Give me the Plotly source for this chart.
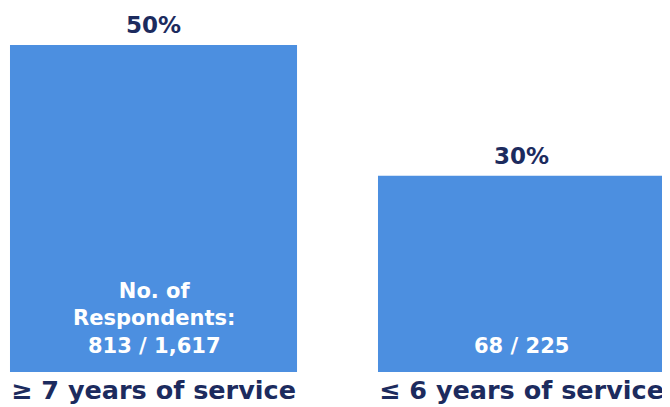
import plotly.graph_objects as go

categories = ["≥ 7 years of service", "≤ 6 years of service"]
percent_values = [50, 30]
percent_labels = ["50%", "30%"]
respondent_labels = ["No. of<br>Respondents:<br>813 / 1,617", "68 / 225"]

x_pos = list(range(len(categories)))
bar_color = "#4C8FE0"
navy = "#1C2B5E"
font_family = "DejaVu Sans, Verdana, sans-serif"

fig = go.Figure()
fig.add_trace(go.Bar(
    x=x_pos, y=percent_values, width=0.78,
    marker=dict(color=bar_color, line=dict(width=0)),
    hoverinfo="skip",
))

annotations = []
for xi, v, pl, rl in zip(x_pos, percent_values, percent_labels, respondent_labels):
    annotations.append(dict(
        x=xi, y=v, xref="x", yref="y", text="<b>%s</b>" % pl,
        showarrow=False, yanchor="middle", yshift=20,
        font=dict(color=navy, size=23, family=font_family),
    ))
    annotations.append(dict(
        x=xi, y=0, xref="x", yref="y", text="<b>%s</b>" % rl,
        showarrow=False, yanchor="bottom", yshift=12,
        font=dict(color="white", size=21, family=font_family),
    ))

fig.update_layout(
    width=662, height=399,
    margin=dict(l=0, r=0, t=0, b=35),
    plot_bgcolor="white", paper_bgcolor="white",
    showlegend=False,
    annotations=annotations,
    xaxis=dict(range=[-0.3954, 1.4035], tickvals=x_pos,
               ticktext=["<b>%s</b>" % c for c in categories],
               tickfont=dict(color=navy, size=25.5, family=font_family),
               showgrid=False, zeroline=False, showline=False,
               ticks="", automargin=False),
    yaxis=dict(range=[0, 55.66], visible=False, automargin=False),
)
fig.write_html("out.html")
